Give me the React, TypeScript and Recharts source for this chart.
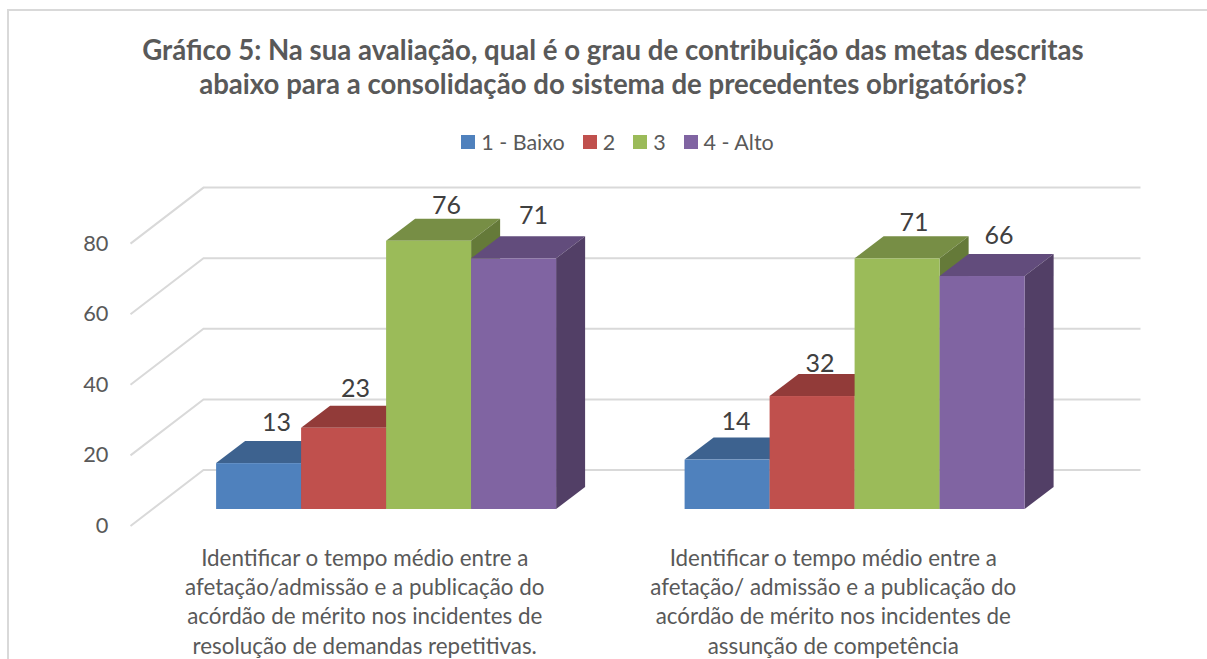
import { Bar, BarChart, CartesianGrid, LabelList, Legend, XAxis, YAxis } from "recharts";

const categories = [
  "Identificar o tempo médio entre a|afetação/admissão e a publicação do|acórdão de mérito nos incidentes de|resolução de demandas repetitivas.",
  "Identificar o tempo médio entre a|afetação/ admissão e a publicação do|acórdão de mérito nos incidentes de|assunção de competência",
];
const baixo = [13, 14];
const dois = [23, 32];
const tres = [76, 71];
const alto = [71, 66];
const yTicks = [0, 20, 40, 60, 80];
const titleLines = [
  "Gráfico 5: Na sua avaliação, qual é o grau de contribuição das metas descritas",
  "abaixo para a consolidação do sistema de precedentes obrigatórios?",
];

const data = categories.map((c, i) => ({
  category: c,
  "1 - Baixo": baixo[i],
  "2": dois[i],
  "3": tres[i],
  "4 - Alto": alto[i],
}));

const series = [
  { key: "1 - Baixo", front: "#4f81bd", top: "#3d628f", side: "#35557c" },
  { key: "2", front: "#c0504d", top: "#923b39", side: "#7f3331" },
  { key: "3", front: "#9bbb59", top: "#778e45", side: "#657a39" },
  { key: "4 - Alto", front: "#8064a2", top: "#624c7c", side: "#523f66" },
];

// nudges for the value labels, they do not sit at a constant spot in the source
const labelNudge = [
  [[18, -41], [9, -39]],
  [[12, -40], [8, -33]],
  [[18, -36], [17, -36]],
  [[20, -43], [17, -41]],
];

const FONT = "Lato, sans-serif";
const GREY = "#595959";
const BAR_DX = 29;
const BAR_DY = 22;

function Bar3D(props: any) {
  const { x, y, width, height, front, top, side } = props;
  const r = x + width;
  const b = y + height;
  return (
    <g>
      <polygon points={`${x},${y} ${x + BAR_DX},${y - BAR_DY} ${r + BAR_DX},${y - BAR_DY} ${r},${y}`} fill={top} />
      <polygon points={`${r},${y} ${r + BAR_DX},${y - BAR_DY} ${r + BAR_DX},${b - BAR_DY} ${r},${b}`} fill={side} />
      <rect x={x} y={y} width={width} height={height} fill={front} />
    </g>
  );
}

// wall + side wall lines, shifted back from the plane the bars stand on
function WallLine(props: any) {
  const { y1, x2 } = props;
  return (
    <polyline
      points={`${props.x1 - 22},${y1 + 17} ${props.x1 + 51},${y1 - 39} ${x2 + 51},${y1 - 39}`}
      fill="none"
      stroke="#d9d9d9"
      strokeWidth={2}
    />
  );
}

function YTick({ x, y, payload }: any) {
  return (
    <text x={x} y={y + 24} textAnchor="end" fontFamily={FONT} fontSize={21.8} fill={GREY}>
      {payload.value}
    </text>
  );
}

function XTick({ x, y, payload }: any) {
  return (
    <g>
      {String(payload.value)
        .split("|")
        .map((line, i) => (
          <text key={i} x={x - 22} y={y + 49 + i * 29.2} textAnchor="middle" fontFamily={FONT} fontSize={22.4} fill={GREY}>
            {line}
          </text>
        ))}
    </g>
  );
}

function LegendRow({ payload }: any) {
  return (
    <div style={{ display: "flex", justifyContent: "center", fontFamily: FONT, fontSize: 21.5, color: GREY, marginLeft: 46 }}>
      {payload.map((p: any) => (
        <div key={p.value} style={{ display: "flex", alignItems: "center", marginRight: 18 }}>
          <span style={{ width: 14, height: 14, background: p.color, marginRight: 6 }} />
          {p.value}
        </div>
      ))}
    </div>
  );
}

function makeLabel(s: number) {
  return function ValueLabel({ x, y, width, index, value }: any) {
    const [dx, dy] = labelNudge[s][index];
    return (
      <text x={x + width / 2 + dx} y={y + dy + 9} textAnchor="middle" fontFamily={FONT} fontSize={25} fill="#404040">
        {value}
      </text>
    );
  };
}

export default function App() {
  return (
    <div style={{ position: "absolute", left: 0, top: 0, width: 1207, height: 659, overflow: "hidden", background: "#fff" }}>
      <div style={{ position: "absolute", left: 7, top: 9, width: 1300, height: 760, border: "2px solid #d9d9d9" }} />
      <div style={{ position: "absolute", left: 0, top: 0 }}>
        <BarChart
          width={1207}
          height={659}
          data={data}
          barGap={0}
          barCategoryGap={63.6}
          margin={{ top: 226.6, right: 117.5, bottom: 0, left: 0 }}
        >
          <text x={613} y={60} textAnchor="middle" fontFamily={FONT} fontSize={27.6} fontWeight={700} fill={GREY}>
            {titleLines[0]}
          </text>
          <text x={613} y={94} textAnchor="middle" fontFamily={FONT} fontSize={27.6} fontWeight={700} fill={GREY}>
            {titleLines[1]}
          </text>
          <CartesianGrid horizontal={WallLine} vertical={false} />
          <XAxis dataKey="category" axisLine={false} tickLine={false} tick={XTick} interval={0} height={150} />
          <YAxis domain={[0, 80]} ticks={yTicks} axisLine={false} tickLine={false} tick={YTick} width={152.5} tickMargin={0} tickSize={44} />
          <Legend
            verticalAlign="middle"
            align="center"
            content={LegendRow}
            wrapperStyle={{ top: 129, left: 0, width: 1207 }}
          />
          {series.map((s, i) => (
            <Bar
              key={s.key}
              dataKey={s.key}
              fill={s.front}
              isAnimationActive={false}
              shape={(p: any) => <Bar3D {...p} front={s.front} top={s.top} side={s.side} />}
            >
              <LabelList dataKey={s.key} content={makeLabel(i)} />
            </Bar>
          ))}
        </BarChart>
      </div>
    </div>
  );
}
